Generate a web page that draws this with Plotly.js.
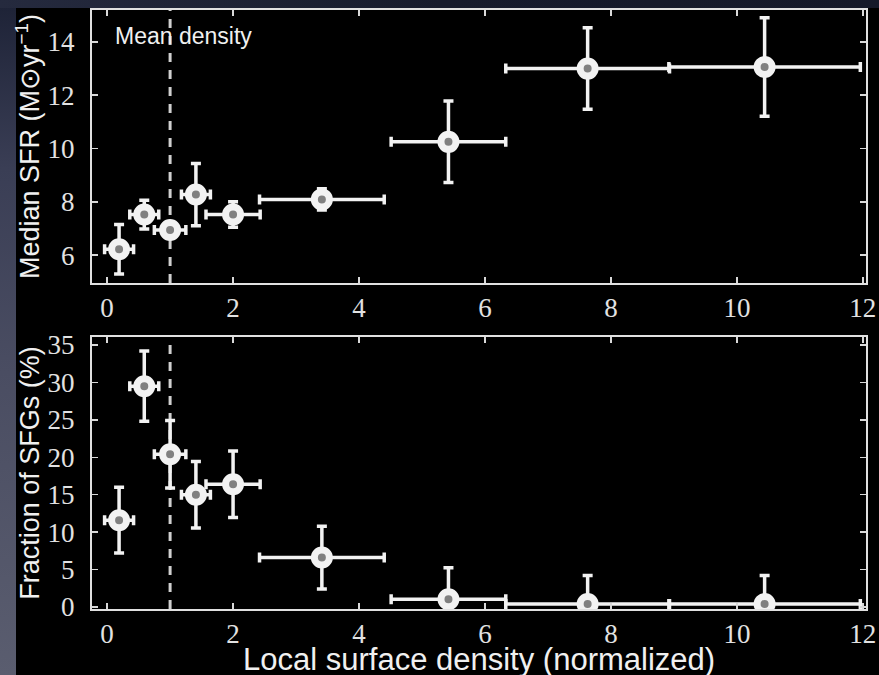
<!DOCTYPE html>
<html>
<head>
<meta charset="utf-8">
<script src="https://cdn.plot.ly/plotly-3.0.1.min.js"></script>
<style>
  html, body { margin: 0; padding: 0; background: #000; width: 879px; height: 675px; overflow: hidden; }
  #bgLeft { position: absolute; left: 0; top: 0; width: 16px; height: 675px;
            background: linear-gradient(to bottom, #1d2236 0%, #3a3e55 25%, #4a4d62 55%, #5a5d6f 100%); }
  #bgTop { position: absolute; left: 0; top: 0; width: 879px; height: 8px;
           background: linear-gradient(to right, #252a3e 0%, #171b2c 50%, #151929 100%); }
  #chart { position: absolute; left: 0; top: 0; width: 879px; height: 675px; }
</style>
</head>
<body>
<div id="bgLeft"></div>
<div id="bgTop"></div>
<div id="chart"></div>
<script>
// ---- data ----
var density      = [0.19, 0.59, 1.0, 1.41, 2.0, 3.41, 5.42, 7.63, 10.44];
var densityErr   = [0.23, 0.23, 0.25, 0.23, 0.43, 0.99, 0.91, 1.3, 1.52];
var medianSFR    = [6.22, 7.52, 6.94, 8.27, 7.52, 8.09, 10.25, 13.0, 13.06];
var medianSFRErr = [0.93, 0.54, 0.28, 1.17, 0.48, 0.4, 1.53, 1.53, 1.85];
var fracSFG      = [11.6, 29.5, 20.4, 15.0, 16.4, 6.6, 1.03, 0.4, 0.4];
var fracSFGErr   = [4.4, 4.7, 4.5, 4.45, 4.45, 4.2, 4.2, 3.8, 3.8];
var meanDensity  = 1.0;
var xTicks   = [0, 2, 4, 6, 8, 10, 12];
var sfrTicks = [6, 8, 10, 12, 14];
var fracTicks = [0, 5, 10, 15, 20, 25, 30, 35];

var white = '#f2f2f2';
function errTrace(y, yerr, xa, ya) {
  return {
    type: 'scatter', mode: 'markers',
    x: density, y: y, xaxis: xa, yaxis: ya,
    error_x: { type: 'data', array: densityErr, visible: true, color: white, thickness: 3.5, width: 5 },
    error_y: { type: 'data', array: yerr, visible: true, color: white, thickness: 3.5, width: 5 },
    marker: { symbol: 'circle', size: 15, color: '#808080', line: { color: white, width: 7 } },
    showlegend: false, hoverinfo: 'x+y'
  };
}

var tickFont = { family: 'Liberation Serif, DejaVu Serif, serif', size: 27, color: '#e2e2e2' };
var titleFont = { family: 'Liberation Sans, Arial, sans-serif', size: 27, color: '#f0f0f0' };

function xAxis(anchor) {
  return {
    anchor: anchor, range: [-0.24, 12.05], tickvals: xTicks, ticktext: xTicks.map(String),
    ticks: 'inside', ticklen: 6, tickwidth: 1.5, tickcolor: '#d8d8d8',
    showline: true, linecolor: '#e0e0e0', linewidth: 2, mirror: 'ticks',
    showgrid: false, zeroline: false, tickfont: tickFont
  };
}
function yAxis(anchor, domain, range, ticks, title) {
  return {
    anchor: anchor, domain: domain, range: range, tickvals: ticks, ticktext: ticks.map(String),
    ticks: 'inside', ticklen: 6, tickwidth: 1.5, tickcolor: '#d8d8d8',
    showline: true, linecolor: '#e0e0e0', linewidth: 2, mirror: 'ticks',
    showgrid: false, zeroline: false, tickfont: tickFont, ticklabelstandoff: 10,
    title: { text: title, font: titleFont, standoff: 0 }
  };
}

var data = [
  errTrace(medianSFR, medianSFRErr, 'x', 'y'),
  errTrace(fracSFG, fracSFGErr, 'x2', 'y2')
];

var layout = {
  width: 879, height: 675,
  margin: { l: 92, r: 13, t: 10, b: 66 },
  paper_bgcolor: 'rgba(0,0,0,0)', plot_bgcolor: '#000',
  xaxis: xAxis('y'),
  yaxis: yAxis('x', [0.5442, 1], [4.95, 15.2], sfrTicks, 'Median SFR (M\u2299yr<sup>\u22121</sup>)'),
  xaxis2: xAxis('y2'),
  yaxis2: yAxis('x2', [0, 0.4541], [-0.27, 36.07], fracTicks, 'Fraction of SFGs (%)'),
  shapes: [
    { type: 'line', xref: 'x', yref: 'y domain', x0: meanDensity, x1: meanDensity, y0: 0, y1: 1,
      line: { color: '#d0d0d0', width: 3, dash: '9px,8px' }, layer: 'below' },
    { type: 'line', xref: 'x2', yref: 'y2 domain', x0: meanDensity, x1: meanDensity, y0: 0, y1: 1,
      line: { color: '#d0d0d0', width: 3, dash: '9px,8px' }, layer: 'below' }
  ],
  annotations: [
    { xref: 'x', yref: 'y', x: 0.1, y: 14.23, xanchor: 'left', yanchor: 'middle', showarrow: false,
      text: 'Mean density', font: { family: 'Liberation Sans, Arial, sans-serif', size: 23, color: '#f0f0f0' } },
    { xref: 'paper', yref: 'paper', x: 0.5, y: -0.052, xanchor: 'center', yanchor: 'top', showarrow: false,
      text: 'Local surface density (normalized)',
      font: { family: 'Liberation Sans, Arial, sans-serif', size: 31, color: '#f0f0f0' } }
  ]
};

Plotly.newPlot('chart', data, layout, { displayModeBar: false, staticPlot: true });
</script>
</body>
</html>
